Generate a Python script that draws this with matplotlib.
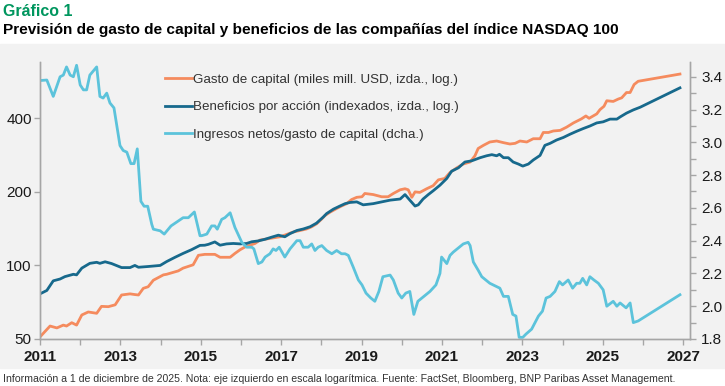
import matplotlib
matplotlib.use("Agg")
import matplotlib.pyplot as plt
from matplotlib.ticker import FixedLocator, FixedFormatter, MultipleLocator
from matplotlib.patches import Rectangle

# ── data ───────────────────────────────────────────────────────────────────────

CAPEX_T = [2011.00, 2011.25, 2011.42, 2011.58, 2011.66, 2011.79, 2011.91, 2012.04,
           2012.20, 2012.41, 2012.53, 2012.70, 2012.87, 2013.03, 2013.24, 2013.36,
           2013.45, 2013.57, 2013.69, 2013.82, 2014.07, 2014.15, 2014.44, 2014.56,
           2014.81, 2014.94, 2015.10, 2015.23, 2015.35, 2015.48, 2015.64, 2015.73,
           2015.85, 2015.98, 2016.10, 2016.22, 2016.35, 2016.47, 2016.72, 2016.97,
           2017.14, 2017.30, 2017.47, 2017.63, 2017.76, 2017.88, 2018.01, 2018.09,
           2018.21, 2018.38, 2018.50, 2018.63, 2018.75, 2018.88, 2019.01, 2019.08,
           2019.29, 2019.50, 2019.66, 2019.79, 2019.96, 2020.08, 2020.16, 2020.25,
           2020.33, 2020.45, 2020.62, 2020.78, 2020.91, 2021.07, 2021.20, 2021.37,
           2021.53, 2021.70, 2021.82, 2021.90, 2022.03, 2022.19, 2022.36, 2022.53,
           2022.69, 2022.82, 2022.94, 2023.11, 2023.27, 2023.44, 2023.52, 2023.65,
           2023.77, 2023.94, 2024.10, 2024.27, 2024.47, 2024.58, 2024.66, 2024.85,
           2024.93, 2025.03, 2025.10, 2025.26, 2025.39, 2025.47, 2025.59, 2025.68,
           2025.78, 2025.88, 2026.92]
CAPEX = [51, 56.5, 55.5, 57, 56.5, 58.3, 57, 62.7,
         64.5, 63.7, 68, 67.8, 69, 75.7, 76.5, 76,
         75.7, 80.6, 81.8, 87, 91.5, 92, 95, 97.5,
         100.6, 110, 111, 111, 111, 108, 108, 108,
         112, 116, 119, 121, 123, 127, 129, 131,
         134, 137, 139, 141, 144, 148, 155, 160,
         165, 171, 175, 179, 186, 190, 191, 197,
         195, 191, 191, 197, 204, 206, 204, 190,
         200, 199, 206, 212, 224, 227, 240, 251,
         260, 265, 281, 301, 310, 320, 323, 318,
         314, 316, 323, 320, 330, 330, 350, 350,
         355, 357, 368, 383, 398, 409, 400, 417,
         434, 448, 472, 469, 480, 485, 510, 510,
         550, 567, 607]

EPS_T = [2011.00, 2011.17, 2011.33, 2011.50, 2011.62, 2011.83, 2011.91, 2012.04,
         2012.24, 2012.41, 2012.49, 2012.62, 2012.78, 2013.03, 2013.24, 2013.36,
         2013.45, 2013.69, 2013.99, 2014.15, 2014.36, 2014.56, 2014.77, 2014.98,
         2015.10, 2015.19, 2015.35, 2015.48, 2015.64, 2015.81, 2015.98, 2016.14,
         2016.27, 2016.43, 2016.60, 2016.76, 2016.93, 2017.09, 2017.22, 2017.39,
         2017.55, 2017.72, 2017.88, 2018.05, 2018.13, 2018.30, 2018.46, 2018.59,
         2018.71, 2018.88, 2019.04, 2019.29, 2019.50, 2019.71, 2019.96, 2020.08,
         2020.20, 2020.33, 2020.41, 2020.53, 2020.66, 2020.78, 2020.95, 2021.12,
         2021.24, 2021.41, 2021.57, 2021.74, 2021.95, 2022.11, 2022.24, 2022.36,
         2022.43, 2022.53, 2022.65, 2022.77, 2022.90, 2023.01, 2023.15, 2023.27,
         2023.44, 2023.56, 2023.69, 2023.85, 2024.02, 2024.18, 2024.35, 2024.51,
         2024.68, 2024.85, 2025.01, 2025.18, 2025.35, 2025.44, 2025.59, 2025.76,
         2025.93, 2026.92]
EPS = [76.5, 79, 86.5, 88, 90, 92, 91.5, 97.5,
       102, 103, 102, 103.5, 101.8, 98, 98, 100,
       98.3, 99, 100, 103.7, 108, 112, 116, 120.8,
       121, 122, 124.8, 121, 122.5, 123, 122.5, 123,
       125, 126, 128, 130.5, 133, 131, 135, 139,
       141, 144, 149, 158, 163, 170, 175, 179,
       181, 182, 177, 179, 182, 185, 187, 195,
       185, 175, 177, 187, 195, 202, 213, 227,
       243, 251, 265, 268, 276, 281, 284, 281,
       285, 276, 276, 265, 260, 255, 260, 270,
       282, 310, 316, 326, 334, 344, 354, 363,
       372, 383, 387, 397, 397, 406, 420, 433,
       444, 533]

RATIO_T = [2011.00, 2011.17, 2011.33, 2011.50, 2011.58, 2011.66, 2011.75, 2011.83,
           2011.91, 2012.00, 2012.08, 2012.16, 2012.24, 2012.41, 2012.49, 2012.57,
           2012.66, 2012.74, 2012.84, 2012.99, 2013.07, 2013.16, 2013.26, 2013.34,
           2013.42, 2013.51, 2013.59, 2013.68, 2013.78, 2013.82, 2013.99, 2014.09,
           2014.26, 2014.44, 2014.56, 2014.69, 2014.84, 2014.98, 2015.02, 2015.15,
           2015.27, 2015.35, 2015.41, 2015.52, 2015.60, 2015.73, 2015.85, 2016.02,
           2016.14, 2016.27, 2016.32, 2016.43, 2016.52, 2016.60, 2016.72, 2016.80,
           2016.87, 2016.95, 2017.09, 2017.22, 2017.39, 2017.47, 2017.55, 2017.67,
           2017.76, 2017.84, 2017.92, 2018.01, 2018.13, 2018.26, 2018.38, 2018.50,
           2018.59, 2018.67, 2018.79, 2018.92, 2019.01, 2019.11, 2019.23, 2019.33,
           2019.43, 2019.53, 2019.71, 2019.79, 2019.91, 2020.00, 2020.10, 2020.20,
           2020.30, 2020.40, 2020.55, 2020.70, 2020.85, 2020.95, 2020.99, 2021.12,
           2021.20, 2021.28, 2021.53, 2021.65, 2021.70, 2021.78, 2021.90, 2021.99,
           2022.19, 2022.44, 2022.53, 2022.65, 2022.76, 2022.84, 2022.92, 2023.01,
           2023.09, 2023.23, 2023.40, 2023.50, 2023.59, 2023.69, 2023.81, 2023.92,
           2024.00, 2024.14, 2024.25, 2024.35, 2024.43, 2024.50, 2024.60, 2024.68,
           2024.78, 2024.89, 2025.01, 2025.10, 2025.26, 2025.35, 2025.43, 2025.58,
           2025.68, 2025.76, 2025.88, 2026.01, 2026.92]
RATIO = [3.377, 3.38, 3.28, 3.40, 3.41, 3.46, 3.41, 3.40,
         3.47, 3.35, 3.32, 3.32, 3.41, 3.46, 3.28, 3.27,
         3.30, 3.24, 3.21, 2.98, 2.95, 2.94, 2.87, 2.87,
         2.96, 2.64, 2.61, 2.61, 2.50, 2.47, 2.46, 2.44,
         2.49, 2.52, 2.54, 2.54, 2.575, 2.43, 2.43, 2.44,
         2.49, 2.49, 2.47, 2.53, 2.54, 2.57, 2.48, 2.39,
         2.36, 2.36, 2.35, 2.26, 2.27, 2.30, 2.32, 2.35,
         2.34, 2.36, 2.30, 2.35, 2.40, 2.40, 2.36, 2.36,
         2.38, 2.34, 2.36, 2.37, 2.34, 2.32, 2.34, 2.32,
         2.32, 2.31, 2.24, 2.16, 2.13, 2.08, 2.05, 2.03,
         2.09, 2.18, 2.19, 2.16, 2.08, 2.05, 2.08, 2.09,
         1.95, 2.03, 2.06, 2.09, 2.13, 2.20, 2.30, 2.26,
         2.31, 2.33, 2.38, 2.39, 2.37, 2.27, 2.22, 2.18,
         2.14, 2.11, 2.06, 2.06, 1.95, 1.94, 1.81, 1.81,
         1.83, 1.86, 1.94, 1.97, 2.05, 2.06, 2.09, 2.15,
         2.13, 2.16, 2.11, 2.14, 2.14, 2.17, 2.13, 2.18,
         2.16, 2.14, 2.10, 2.00, 2.03, 2.00, 2.02, 1.99,
         2.02, 1.90, 1.91, 1.93, 2.07]

LABELS = ["Gasto de capital (miles mill. USD, izda., log.)",
          "Beneficios por acción (indexados, izda., log.)",
          "Ingresos netos/gasto de capital (dcha.)"]
LEFT_TICKS = [50, 100, 200, 400]
YEAR_TICKS = [2011, 2013, 2015, 2017, 2019, 2021, 2023, 2025, 2027]

ORANGE = "#f58b5e"
NAVY = "#17698c"
CYAN = "#5cc3db"
GREEN = "#00965e"
PANEL = "#f2f2f2"
AXIS = "#a6a6a6"

plt.rcParams["font.family"] = ["Liberation Sans", "DejaVu Sans"]

fig = plt.figure(figsize=(7.25, 3.86), dpi=100)
W, H = 725, 386

# grey panel behind the chart
fig.patches.append(Rectangle((0, 1 - 368 / H), 1, (368 - 44) / H,
                             transform=fig.transFigure, color=PANEL, zorder=-10))

fig.text(3 / W, 1 - 11 / H, "Gráfico 1", color=GREEN, fontsize=11.5,
         fontweight="bold", va="center", ha="left")
fig.text(3 / W, 1 - 30 / H,
         "Previsión de gasto de capital y beneficios de las compañías del índice NASDAQ 100",
         color="black", fontsize=11.1, fontweight="bold", va="center", ha="left")
fig.text(3 / W, 1 - 379 / H,
         "Información a 1 de diciembre de 2025. Nota: eje izquierdo en escala logarítmica. "
         "Fuente: FactSet, Bloomberg, BNP Paribas Asset Management.",
         color="#333333", fontsize=7.6, va="center", ha="left")

ax = fig.add_axes([40 / W, 1 - 339 / H, (690 - 40) / W, (339 - 62) / H])
ax.set_facecolor("none")
ax2 = ax.twinx()

l1, = ax.plot(CAPEX_T, CAPEX, color=ORANGE, lw=2.0, solid_joinstyle="round")
l2, = ax.plot(EPS_T, EPS, color=NAVY, lw=2.0, solid_joinstyle="round")
l3, = ax2.plot(RATIO_T, RATIO, color=CYAN, lw=2.0, solid_joinstyle="round")

ax.set_yscale("log")
ax.set_ylim(50, 680)
ax.yaxis.set_major_locator(FixedLocator(LEFT_TICKS))
ax.yaxis.set_major_formatter(FixedFormatter([str(v) for v in LEFT_TICKS]))
ax.yaxis.set_minor_locator(FixedLocator([]))

ax2.set_ylim(1.8, 3.49)
ax2.yaxis.set_major_locator(MultipleLocator(0.2))
ax2.yaxis.set_minor_locator(MultipleLocator(0.1))
ax2.yaxis.set_major_formatter(plt.FuncFormatter(lambda v, p: f"{v:.1f}"))

ax.set_xlim(2011, 2027.17)
ax.xaxis.set_major_locator(FixedLocator(YEAR_TICKS))
ax.xaxis.set_minor_locator(MultipleLocator(1))

for a in (ax, ax2):
    for s in a.spines.values():
        s.set_color(AXIS)
        s.set_linewidth(1.0)
    a.spines["top"].set_visible(False)
    a.tick_params(which="both", color=AXIS, width=1.0, labelsize=11,
                  labelcolor="#1a1a1a", length=4)
ax.tick_params(axis="x", pad=4)
ax.tick_params(axis="y", pad=2)
ax2.tick_params(axis="y", pad=4)
ax.set_xticklabels([str(y) for y in YEAR_TICKS], fontweight="bold")

leg = ax2.legend([l1, l2, l3], LABELS, loc="upper left",
                 bbox_to_anchor=(114 / 650, 1.0), frameon=False,
                 fontsize=9.6, handlelength=2.0, handletextpad=0.1,
                 labelspacing=1.15, borderaxespad=0.45)
for t in leg.get_texts():
    t.set_color("#333333")

fig.savefig("out.png", dpi=100, facecolor="white")
